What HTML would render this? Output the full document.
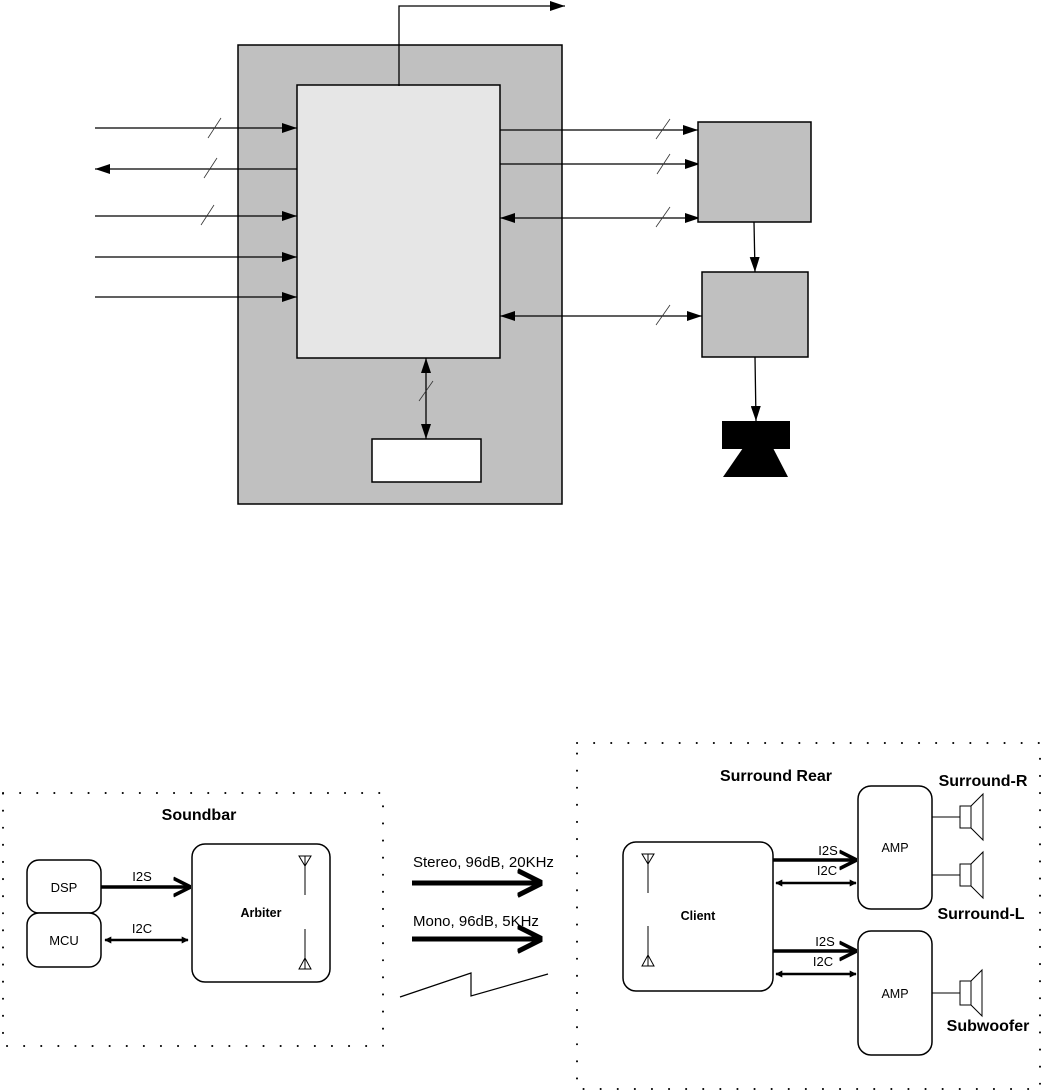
<!DOCTYPE html>
<html><head><meta charset="utf-8"><style>html,body{margin:0;padding:0;background:#fff}svg{display:block}</style></head>
<body>
<svg width="1042" height="1092" viewBox="0 0 1042 1092" xmlns="http://www.w3.org/2000/svg" font-family="Liberation Sans, Arial, sans-serif">
<defs>
<marker id="a" viewBox="0 0 15 10" refX="15" refY="5" markerWidth="15" markerHeight="10" markerUnits="userSpaceOnUse" orient="auto-start-reverse"><path d="M0,0 L15,5 L0,10 z" fill="#000"/></marker>
<marker id="b" viewBox="0 0 10 10" refX="9" refY="5" markerWidth="5" markerHeight="6" orient="auto-start-reverse"><path d="M0,0 L10,5 L0,10" fill="none" stroke="#000" stroke-width="2"/></marker>
<marker id="c" viewBox="0 0 10 10" refX="9" refY="5" markerWidth="7" markerHeight="8" markerUnits="userSpaceOnUse" orient="auto-start-reverse"><path d="M0,0 L10,5 L0,10 z" fill="#000"/></marker>
</defs>
<!-- top diagram -->
<rect x="238" y="45" width="324" height="459" fill="#c0c0c0" stroke="#000" stroke-width="1.5"/>
<rect x="297" y="85" width="203" height="273" fill="#e6e6e6" stroke="#000" stroke-width="1.5"/>
<rect x="372" y="439" width="109" height="43" fill="#fff" stroke="#000" stroke-width="1.5"/>
<g stroke="#000" stroke-width="1.3" fill="none">
<polyline points="399,86 399,6 565,6" marker-end="url(#a)"/>
<line x1="95" y1="128" x2="297" y2="128" marker-end="url(#a)"/>
<line x1="297" y1="169" x2="95" y2="169" marker-end="url(#a)"/>
<line x1="95" y1="216" x2="297" y2="216" marker-end="url(#a)"/>
<line x1="95" y1="257" x2="297" y2="257" marker-end="url(#a)"/>
<line x1="95" y1="297" x2="297" y2="297" marker-end="url(#a)"/>
<line x1="500" y1="130" x2="698" y2="130" marker-end="url(#a)"/>
<line x1="500" y1="164" x2="700" y2="164" marker-end="url(#a)"/>
<line x1="500" y1="218" x2="700" y2="218" marker-start="url(#a)" marker-end="url(#a)"/>
<line x1="500" y1="316" x2="702" y2="316" marker-start="url(#a)" marker-end="url(#a)"/>
<line x1="426" y1="358" x2="426" y2="439" marker-start="url(#a)" marker-end="url(#a)"/>
<line x1="754" y1="222" x2="755" y2="272" marker-end="url(#a)"/>
<line x1="755" y1="357" x2="756" y2="421" marker-end="url(#a)"/>
</g>
<g stroke="#333" stroke-width="0.8">
<line x1="208" y1="138" x2="221" y2="118"/><line x1="204" y1="178" x2="217" y2="158"/><line x1="201" y1="225" x2="214" y2="205"/>
<line x1="656" y1="139" x2="670" y2="119"/><line x1="657" y1="174" x2="670" y2="154"/><line x1="656" y1="227" x2="670" y2="207"/><line x1="656" y1="325" x2="670" y2="305"/>
<line x1="419" y1="401" x2="433" y2="381"/>
</g>
<rect x="698" y="122" width="113" height="100" fill="#c0c0c0" stroke="#000" stroke-width="1.5"/>
<rect x="702" y="272" width="106" height="85" fill="#c0c0c0" stroke="#000" stroke-width="1.5"/>
<rect x="722" y="421" width="68" height="28" fill="#000"/>
<polygon points="743,448 773,448 788,477 723,477" fill="#000"/>

<!-- soundbar -->
<rect x="3" y="793" width="380" height="253" fill="none" stroke="#000" stroke-width="2" stroke-dasharray="0.1 17" stroke-linecap="round"/>
<text x="199" y="820" font-size="16" font-weight="bold" text-anchor="middle">Soundbar</text>
<rect x="27" y="860" width="74" height="53" rx="12" fill="#fff" stroke="#000" stroke-width="1.5"/>
<rect x="27" y="913" width="74" height="54" rx="12" fill="#fff" stroke="#000" stroke-width="1.5"/>
<text x="64" y="892" font-size="13" text-anchor="middle">DSP</text>
<text x="64" y="945" font-size="13" text-anchor="middle">MCU</text>
<rect x="192" y="844" width="138" height="138" rx="13" fill="#fff" stroke="#000" stroke-width="1.5"/>
<text x="261" y="917" font-size="12.5" font-weight="bold" text-anchor="middle">Arbiter</text>
<g stroke="#000" stroke-width="1" fill="none">
<path d="M299,856 L311,856 L305,866 z M305,856 L305,895"/>
<path d="M299,969 L311,969 L305,958 z M305,969 L305,929"/>
</g>
<line x1="101" y1="887" x2="189" y2="887" stroke="#000" stroke-width="3.5" marker-end="url(#b)"/>
<line x1="105" y1="940" x2="188" y2="940" stroke="#000" stroke-width="2.5" marker-start="url(#c)" marker-end="url(#c)"/>
<text x="142" y="881" font-size="13" text-anchor="middle">I2S</text>
<text x="142" y="933" font-size="13" text-anchor="middle">I2C</text>

<!-- middle -->
<text x="413" y="867" font-size="15">Stereo, 96dB, 20KHz</text>
<text x="413" y="926" font-size="15">Mono, 96dB, 5KHz</text>
<line x1="412" y1="883" x2="540" y2="883" stroke="#000" stroke-width="5" marker-end="url(#b)"/>
<line x1="412" y1="939" x2="540" y2="939" stroke="#000" stroke-width="5" marker-end="url(#b)"/>
<polyline points="400,997 471,973 471,996 548,974" fill="none" stroke="#000" stroke-width="1.2"/>

<!-- surround rear -->
<rect x="577" y="743" width="463" height="346" fill="none" stroke="#000" stroke-width="2" stroke-dasharray="0.1 17" stroke-linecap="round"/>
<text x="776" y="781" font-size="16" font-weight="bold" text-anchor="middle">Surround Rear</text>
<rect x="623" y="842" width="150" height="149" rx="13" fill="#fff" stroke="#000" stroke-width="1.5"/>
<text x="698" y="920" font-size="12.5" font-weight="bold" text-anchor="middle">Client</text>
<g stroke="#000" stroke-width="1" fill="none">
<path d="M642,854 L654,854 L648,864 z M648,854 L648,893"/>
<path d="M642,966 L654,966 L648,955 z M648,966 L648,926"/>
</g>
<rect x="858" y="786" width="74" height="123" rx="13" fill="#fff" stroke="#000" stroke-width="1.5"/>
<rect x="858" y="931" width="74" height="124" rx="13" fill="#fff" stroke="#000" stroke-width="1.5"/>
<text x="895" y="852" font-size="12.5" text-anchor="middle">AMP</text>
<text x="895" y="998" font-size="12.5" text-anchor="middle">AMP</text>
<line x1="773" y1="860" x2="855" y2="860" stroke="#000" stroke-width="3.5" marker-end="url(#b)"/>
<line x1="773" y1="951" x2="855" y2="951" stroke="#000" stroke-width="3.5" marker-end="url(#b)"/>
<line x1="776" y1="883" x2="856" y2="883" stroke="#000" stroke-width="2.5" marker-start="url(#c)" marker-end="url(#c)"/>
<line x1="776" y1="974" x2="856" y2="974" stroke="#000" stroke-width="2.5" marker-start="url(#c)" marker-end="url(#c)"/>
<text x="828" y="855" font-size="13" text-anchor="middle">I2S</text>
<text x="827" y="875" font-size="13" text-anchor="middle">I2C</text>
<text x="825" y="946" font-size="13" text-anchor="middle">I2S</text>
<text x="823" y="966" font-size="13" text-anchor="middle">I2C</text>
<g stroke="#000" stroke-width="1" fill="#fff">
<line x1="932" y1="817" x2="960" y2="817"/><line x1="932" y1="875" x2="960" y2="875"/><line x1="932" y1="993" x2="960" y2="993"/>
<rect x="960" y="806" width="11" height="22"/><polygon points="971,806 983,794 983,840 971,828"/>
<rect x="960" y="864" width="11" height="22"/><polygon points="971,864 983,852 983,898 971,886"/>
<rect x="960" y="981" width="11" height="24"/><polygon points="971,981 982,970 982,1016 971,1005"/>
</g>
<text x="983" y="786" font-size="16" font-weight="bold" text-anchor="middle">Surround-R</text>
<text x="981" y="919" font-size="16" font-weight="bold" text-anchor="middle">Surround-L</text>
<text x="988" y="1031" font-size="16" font-weight="bold" text-anchor="middle">Subwoofer</text>
</svg>
</body></html>
